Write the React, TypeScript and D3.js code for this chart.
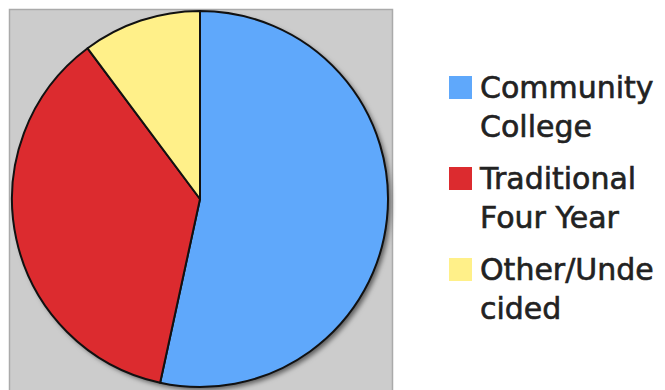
import React from "react";
import * as d3 from "d3";

const categories = ["Community College", "Traditional Four Year", "Other/Undecided"];
const values = [53.4, 36.4, 10.2];
const colors = ["#5fa8fb", "#dc2b2f", "#fff089"];
const legendLines = [["Community", "College"], ["Traditional", "Four Year"], ["Other/Unde", "cided"]];

export default function App() {
  const W = 665, H = 390;
  const cx = 200, cy = 199, r = 188;
  const pie = d3.pie<number>().sort(null).value((d) => d);
  const arcs = pie(values);
  const arc = d3.arc<d3.PieArcDatum<number>>().innerRadius(0).outerRadius(r);
  return (
    <svg width={W} height={H} style={{ position: "absolute", left: 0, top: 0 }}>
      <defs>
        <filter id="shadow" x="-10%" y="-10%" width="125%" height="125%">
          <feDropShadow dx="3" dy="3" stdDeviation="2.5" floodColor="#000" floodOpacity="0.55" />
        </filter>
      </defs>
      <rect x={0} y={0} width={W} height={H} fill="#fff" />
      <rect x={9.5} y={9.5} width={383} height={400} fill="#cccccc" stroke="#aaaaaa" strokeWidth={1.5} />
      <g transform={`translate(${cx},${cy})`}>
        <circle r={r} fill="#777" filter="url(#shadow)" />
        {arcs.map((a, i) => (
          <path key={categories[i]} d={arc(a) || ""} fill={colors[i]} stroke="#111" strokeWidth={2} strokeLinejoin="round" />
        ))}
      </g>
      <g fontFamily="DejaVu Sans, Verdana, sans-serif" fontSize={30} fill="#222" stroke="#222" strokeWidth={0.6}>
        {categories.map((c, i) => (
          <g key={c} transform={`translate(449,${76 + i * 91})`}>
            <rect x={0} y={0} width={23} height={23} fill={colors[i]} stroke="none" />
            {legendLines[i].map((t, j) => (
              <text key={j} x={31} y={22 + j * 39}>{t}</text>
            ))}
          </g>
        ))}
      </g>
    </svg>
  );
}
